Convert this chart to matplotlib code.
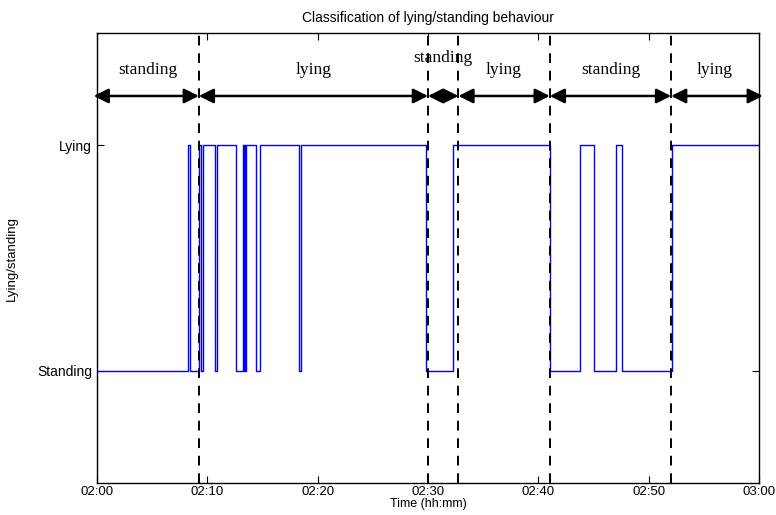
# Lying / standing classification plot

import numpy as np
import matplotlib
matplotlib.use('Agg')
import matplotlib.pyplot as plt

plt.rcParams['font.family'] = ['Liberation Sans', 'DejaVu Sans']

# sensor signal: switch times in minutes after 02:00, state after the switch (0 = standing, 1 = lying)
switch_min = [0, 8.24, 8.39, 9.26, 9.46, 9.59, 10.72, 10.90, 12.62, 13.21, 13.30, 13.36,
              13.44, 13.50, 14.43, 14.80, 18.33, 18.51, 29.86, 32.31, 41.09, 43.80,
              45.07, 47.06, 47.63, 52.11, 60]
state = [0, 1, 0, 1, 0, 1, 0, 1, 0, 1, 0, 1,
         0, 1, 0, 1, 0, 1, 0, 1, 0, 1,
         0, 1, 0, 1, 1]

# classified segments (boundaries in minutes)
bounds = [0, 9.23, 30.0, 32.76, 41.04, 52.04, 60]
seg_labels = ['standing', 'lying', 'standing', 'lying', 'standing', 'lying']

xtick_min = [0, 10, 20, 30, 40, 50, 60]
xtick_labels = ['02:00', '02:10', '02:20', '02:30', '02:40', '02:50', '03:00']
ytick_labels = ['Standing', 'Lying']

fig = plt.figure(figsize=(7.76, 5.15), dpi=100)
ax = fig.add_axes([0.125, 0.062, 0.853, 0.874])

ax.plot(switch_min, state, drawstyle='steps-post', color='#0000ff', lw=1)

# dashed separators
for b in bounds[1:-1]:
    ax.axvline(b, color='k', ls=(0, (5, 4)), lw=1.4, clip_on=False)

# double arrows + labels
arrow_y = 1.22
for i in range(len(seg_labels)):
    x0, x1 = bounds[i], bounds[i + 1]
    ax.annotate('', xy=(x1 + (0.35 if i == len(seg_labels) - 1 else 0), arrow_y),
                xytext=(x0 - (0.3 if i == 0 else 0), arrow_y),
                arrowprops=dict(arrowstyle='<|-|>', color='k', lw=1.8,
                                mutation_scale=22, shrinkA=0, shrinkB=0),
                annotation_clip=False)
    ty = 1.39 if (x1 - x0) < 5 else 1.335
    ax.text((x0 + x1) / 2, ty, seg_labels[i], ha='center', va='center',
            family='Liberation Serif', fontsize=12.5)

ax.set_xlim(0, 60)
ax.set_ylim(-0.5, 1.5)
ax.set_xticks(xtick_min)
ax.set_xticklabels(xtick_labels)
ax.set_yticks([0, 1])
ax.set_yticklabels(ytick_labels)
ax.tick_params(direction='in', top=True, right=True, length=5, labelsize=10, width=0.8)
ax.tick_params(axis='x', pad=2, labelsize=9.5)
for s in ax.spines.values():
    s.set_linewidth(1)

ax.set_title('Classification of lying/standing behaviour', fontsize=10, pad=8)
ax.set_xlabel('Time (hh:mm)', fontsize=9, labelpad=0)
ax.set_ylabel('Lying/standing', fontsize=9.5, labelpad=14)

fig.savefig('out.png', dpi=100)
